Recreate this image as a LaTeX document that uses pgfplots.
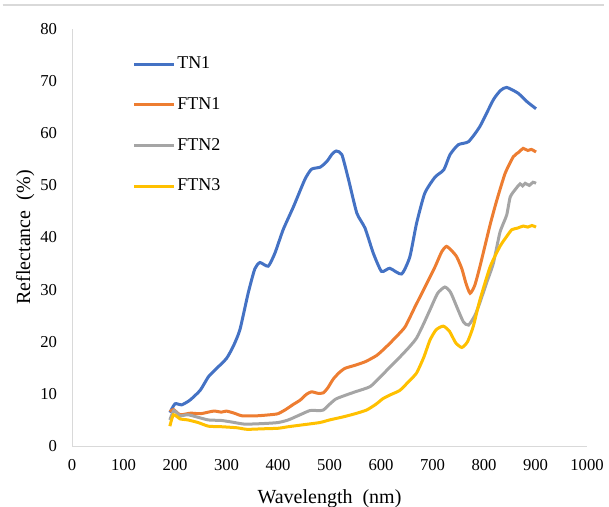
\documentclass[12pt,border=0pt]{standalone}
\usepackage{pgfplots}
\pgfplotsset{compat=1.18}
\usepackage{fontspec}
\setmainfont{Liberation Serif}
\definecolor{cBlue}{HTML}{4472C4}
\definecolor{cOrange}{HTML}{ED7D31}
\definecolor{cGray}{HTML}{A5A5A5}
\definecolor{cYellow}{HTML}{FFC000}
\definecolor{cAxis}{HTML}{D9D9D9}
\begin{document}
\begin{tikzpicture}
\useasboundingbox (0pt,0pt) rectangle (456.75pt,-379.5pt);
\draw[cAxis, line width=0.9pt] (2pt,-3.75pt) -- (453pt,-3.75pt);
\begin{axis}[
  at={(54pt,-334.5pt)}, anchor=south west,
  scale only axis, width=386.25pt, height=312.75pt,
  xmin=0, xmax=1000, ymin=0, ymax=80,
  xtick={0,100,...,1000}, ytick={0,10,...,80},
  axis lines*=left,
  axis line style={draw=cAxis, line width=0.75pt, -},
  major tick length=0pt,
  tick style={draw=none},
  /pgf/number format/assume math mode=true,
  /pgf/number format/1000 sep={},
  ticklabel style={font=\fontsize{12.5}{14}\selectfont},
  yticklabel style={xshift=-7pt},
  xticklabel style={yshift=-6pt},
  xlabel={Wavelength\ \ (nm)},
  ylabel={Reflectance\ \ (\%)},
  label style={font=\fontsize{15}{17}\selectfont},
  xlabel style={at={(rel axis cs:0.5,0)}, anchor=north, yshift=-28.5pt},
  ylabel style={at={(rel axis cs:0,0.5)}, anchor=south, rotate=0, yshift=24pt},
  legend style={at={(0.11,0.943)}, anchor=north west, draw=none, fill=none,
    font=\fontsize{13.5}{15}\selectfont, row sep=17.75pt,
    nodes={inner sep=1pt}},
  legend cell align=left,
  legend image code/.code={\draw[#1, line width=2.25pt] (0pt,0pt) -- (30pt,0pt);},
  every axis plot/.append style={line width=2.25pt, smooth, tension=0.35},
]
\addplot[cBlue] coordinates {
(190,6.4)(200,8.1)(213,7.9)(229,8.8)(249,10.7)(265,13.3)(281,14.9)(300,16.8)
(313,19.1)(326,22.3)(342,29.3)(355,34.0)(365,35.2)(381,34.5)(394,37.0)(410,41.5)
(430,45.9)(452,51.1)(465,53.1)(482,53.5)(495,54.6)(505,56.0)(513,56.6)(524,55.9)
(537,51.1)(553,44.7)(569,41.8)(585,37.0)(601,33.5)(617,34.1)(640,33.0)(656,36.3)
(669,42.7)(685,48.5)(705,51.6)(722,53.0)(734,55.9)(750,57.8)(770,58.4)(792,61.3)
(818,66.4)(832,68.2)(844,68.8)(866,67.7)(883,66.1)(901,64.7)};
\addlegendentry{TN1}
\addplot[cOrange] coordinates {
(190,6.6)(197,7.0)(210,6.0)(230,6.3)(250,6.2)(275,6.7)(290,6.5)(300,6.7)(315,6.3)
(330,5.8)(360,5.8)(385,6.0)(400,6.2)(415,7.0)(430,8.0)(443,8.8)(455,9.9)(465,10.4)
(478,10.1)(488,10.2)(497,11.2)(507,12.8)(518,14.0)(530,14.9)(550,15.5)(570,16.2)
(592,17.4)(611,19.1)(630,21.0)(647,22.9)(666,26.7)(689,31.2)(705,34.4)(718,37.3)
(727,38.3)(737,37.5)(747,36.3)(757,34.0)(765,31.2)(773,29.3)(782,30.8)(792,34.4)
(812,42.5)(825,47.2)(841,52.3)(857,55.5)(868,56.4)(876,57.1)(885,56.7)(892,56.9)(901,56.4)};
\addlegendentry{FTN1}
\addplot[cGray] coordinates {
(190,5.0)(198,6.8)(210,5.8)(225,6.0)(245,5.5)(265,5.0)(290,4.9)(310,4.6)(335,4.2)
(370,4.3)(400,4.5)(420,5.0)(443,6.0)(462,6.8)(478,6.8)(488,6.9)(500,8.0)(512,9.0)
(527,9.6)(550,10.4)(579,11.4)(600,13.4)(620,15.4)(637,17.1)(655,19.0)(669,20.7)
(683,23.5)(695,26.1)(710,29.3)(724,30.5)(735,29.5)(748,26.5)(760,23.8)(770,23.2)
(782,25.0)(792,27.5)(805,31.3)(818,35.0)(831,41.0)(844,44.3)(851,47.8)(863,49.5)
(870,50.3)(875,49.9)(880,50.4)(888,50.0)(895,50.6)(901,50.4)};
\addlegendentry{FTN2}
\addplot[cYellow] coordinates {
(190,3.8)(197,6.0)(210,5.2)(225,5.0)(245,4.5)(265,3.8)(290,3.7)(320,3.5)(340,3.2)
(370,3.3)(400,3.4)(420,3.7)(443,4.0)(481,4.5)(500,5.0)(527,5.6)(550,6.2)(572,6.9)
(590,8.0)(604,9.1)(620,9.9)(637,10.7)(655,12.5)(669,14.0)(683,17.0)(695,20.3)
(707,22.3)(721,23.0)(733,22.0)(745,19.8)(757,18.9)(768,20.0)(779,22.9)(792,28.0)
(812,34.4)(831,38.3)(844,40.2)(854,41.5)(865,41.8)(876,42.2)(885,42.0)(893,42.3)(901,42.0)};
\addlegendentry{FTN3}
\end{axis}
\end{tikzpicture}
\end{document}
